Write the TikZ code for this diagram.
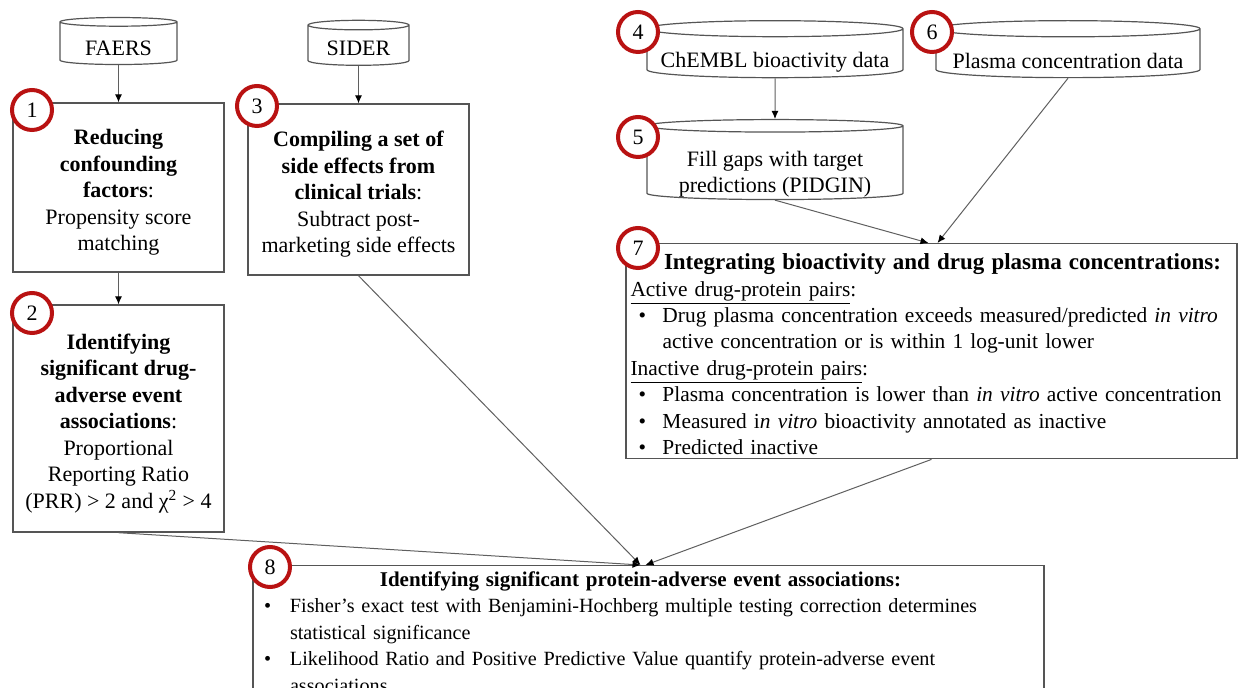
\documentclass[tikz,border=0pt]{standalone}
\usepackage{fontspec}
\setmainfont{Liberation Serif}
\usetikzlibrary{shapes.geometric,arrows.meta}

\definecolor{rojo}{RGB}{185,18,18}
\definecolor{borde}{RGB}{85,85,85}
\definecolor{linea}{RGB}{95,95,95}

% viñeta con sangría colgante
\newcommand{\vineta}[2]{\par\noindent\hangindent=#2\hangafter=1\hspace*{#1}\makebox[\dimexpr#2-#1\relax][l]{\textbullet}}
% texto bajado dentro del cilindro
\newcommand{\bajar}[2]{\raisebox{-#1}[\height][\depth]{#2}}

\begin{document}
\begin{tikzpicture}[x=0.5pt, y=-0.5pt,
    font=\fontsize{11}{13.25}\selectfont,
    datos/.style={cylinder, shape border rotate=90, draw=borde, line width=0.6pt,
      fill=white, inner sep=0pt},
    caja/.style={draw=borde, line width=0.7pt, fill=white, inner sep=0pt},
    texto/.style={align=center, inner sep=0pt},
    lista/.style={draw=borde, line width=0.7pt, fill=white, anchor=north},
    num/.style={circle, draw=rojo, line width=2pt, fill=white, inner sep=0pt,
      minimum size=20pt},
    flecha/.style={draw=linea, line width=0.5pt, -{Latex[length=4pt,width=3.5pt,color=black]}}]

    \useasboundingbox (0,0) rectangle (1239,688);

    % Bases de datos
    \node[datos, minimum width=58.5pt, minimum height=23.5pt, aspect=0.13] (faers) at (118.5,43.5) {\bajar{2.5pt}{FAERS}};
    \node[datos, minimum width=50.5pt, minimum height=22.5pt, aspect=0.15] (sider) at (358.5,45.5) {\bajar{1.5pt}{SIDER}};
    \node[datos, minimum width=128pt, minimum height=28.5pt, aspect=0.07] (chembl) at (775,53.5) {\bajar{4.25pt}{ChEMBL bioactivity data}};
    \node[datos, minimum width=132pt, minimum height=28.5pt, aspect=0.07] (plasma) at (1068,53.5) {\bajar{3.75pt}{Plasma concentration data}};
    \node[datos, minimum width=128pt, minimum height=40pt, aspect=0.065] (pidgin) at (775,163)
      {\bajar{5.5pt}{\begin{tabular}{@{}c@{}}Fill gaps with target\\ predictions (PIDGIN)\end{tabular}}};

    % Cajas
    \node[caja, minimum width=105.5pt, minimum height=84.5pt] (caja1) at (118.5,187.5) {};
    \node[caja, minimum width=110.5pt, minimum height=85.5pt] (caja3) at (358.5,189.5) {};
    \node[caja, minimum width=105.5pt, minimum height=113.5pt] (caja2) at (118.5,418.5) {};
    \node[texto] (t1) at ([yshift=-2.5pt]caja1.center)
      {\textbf{Reducing}\\ \textbf{confounding}\\ \textbf{factors}:\\ Propensity score\\ matching};
    \node[texto] (t3) at ([yshift=-2.5pt]caja3.center)
      {\textbf{Compiling a set of}\\ \textbf{side effects from}\\ \textbf{clinical trials}:\\ Subtract post-\\ marketing side effects};
    \node[texto] (t2) at ([yshift=-2.5pt]caja2.center)
      {\textbf{Identifying}\\ \textbf{significant drug-}\\ \textbf{adverse event}\\ \textbf{associations}:\\ Proportional\\ Reporting Ratio\\ (PRR) > 2 and χ\textsuperscript{2} > 4};

    \node[lista, inner xsep=2.25pt, inner ysep=2pt, text width=301pt,
      font=\fontsize{10.7}{13.2}\selectfont] (caja7) at (931.5,243)
      {\raggedright\hyphenpenalty=10000
       {\centering\fontsize{11.5}{13.2}\selectfont\rule{0pt}{11pt}\hspace*{11pt}\textbf{Integrating bioactivity and drug plasma concentrations:}\par}
       \noindent\underline{Active drug-protein pairs}:
       \vineta{4pt}{16pt}Drug plasma concentration exceeds measured/predicted \textit{in vitro}\newline active concentration or is within 1 log-unit lower
       \par\noindent\underline{Inactive drug-protein pairs}:
       \vineta{4pt}{16pt}Plasma concentration is lower than \textit{in vitro} active concentration
       \vineta{4pt}{16pt}Measured i\textit{n vitro} bioactivity annotated as inactive
       \vineta{4pt}{16pt}Predicted inactive\par};
    \node[lista, inner xsep=2pt, inner ysep=3pt, text width=391.5pt,
      font=\fontsize{10.1}{13.25}\selectfont] (caja8) at (648.5,565)
      {\raggedright\hyphenpenalty=10000
       {\centering\fontsize{10.5}{13.25}\selectfont\textbf{Identifying significant protein-adverse event associations:}\hspace*{8pt}\par}
       \vineta{3.5pt}{16.5pt}Fisher’s exact test with Benjamini-Hochberg multiple testing correction determines\newline statistical significance
       \vineta{3.5pt}{16.5pt}Likelihood Ratio and Positive Predictive Value quantify protein-adverse event\newline associations\par};

    % Flechas
    \draw[flecha] (faers.south) -- (caja1.north);
    \draw[flecha] (sider.south) -- (caja3.north);
    \draw[flecha] (caja1.south) -- (caja2.north);
    \draw[flecha] (chembl.south) -- (pidgin.north);
    \draw[flecha] (pidgin.south) -- ([xshift=-1.5pt]caja7.north);
    \draw[flecha] (plasma.south) -- ([xshift=3pt]caja7.north);
    \draw[flecha] (caja2.south) -- ([xshift=-4pt]caja8.north);
    \draw[flecha] (caja3.south) -- ([xshift=-4pt]caja8.north);
    \draw[flecha] (caja7.south) -- ([xshift=-1.5pt]caja8.north);

    % Círculos numerados
    \node[num] (n1) at (32,110) {1};
    \node[num] (n2) at (32,313) {2};
    \node[num] (n3) at (257,106) {3};
    \node[num] (n4) at (638,32) {4};
    \node[num] (n5) at (638,137) {5};
    \node[num] (n6) at (932,32) {6};
    \node[num] (n7) at (638,248) {7};
    \node[num] (n8) at (270,567) {8};

  \end{tikzpicture}
\end{document}
